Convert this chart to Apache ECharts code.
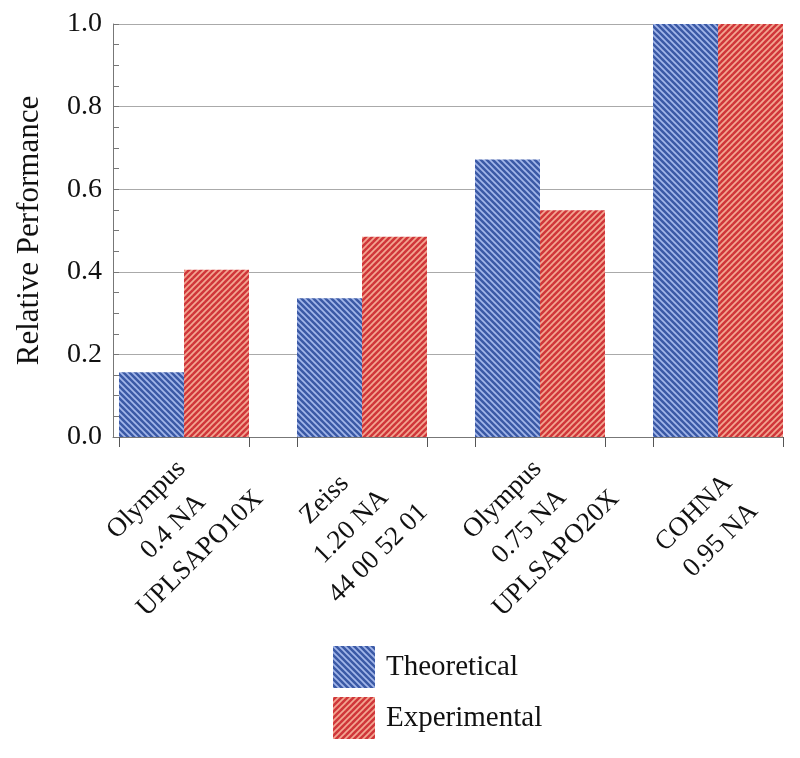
<!DOCTYPE html>
<html>
<head>
<meta charset="utf-8">
<script src="https://cdn.jsdelivr.net/npm/echarts@6/dist/echarts.min.js"></script>
<style>
html,body{margin:0;padding:0;background:#fff;}
#chart{width:800px;height:758px;}
</style>
</head>
<body>
<div id="chart"></div>
<script>
// ---- data ----
var categories = [
  'Olympus\n0.4 NA\nUPLSAPO10X',
  'Zeiss\n1.20 NA\n44 00 52 01',
  'Olympus\n0.75 NA\nUPLSAPO20X',
  'COHNA\n0.95 NA'
];
var theoretical = [0.157, 0.336, 0.672, 1.0];
var experimental = [0.405, 0.485, 0.549, 1.0];
var yTicks = [0, 0.2, 0.4, 0.6, 0.8, 1.0];
var seriesNames = ['Theoretical', 'Experimental'];

// ---- hatch patterns ----
function hatch(bg, fg, dir) {
  var s = 6;
  var c = document.createElement('canvas');
  c.width = s; c.height = s;
  var g = c.getContext('2d');
  g.fillStyle = bg; g.fillRect(0, 0, s, s);
  g.strokeStyle = fg; g.lineWidth = 1.7;
  for (var k = -1; k <= 2; k++) {
    g.beginPath();
    if (dir === 'back') { // "\" direction
      g.moveTo(-s, k * s - s); g.lineTo(2 * s, k * s + 2 * s);
    } else { // "/" direction
      g.moveTo(-s, k * s + s); g.lineTo(2 * s, k * s - 2 * s);
    }
    g.stroke();
  }
  return { image: c, repeat: 'repeat' };
}
var bluePat = hatch('#3b5aa6', '#a3b7ea', 'back');
var redPat = hatch('#d0363a', '#f3a792', 'fwd');

var FONT = 'Liberation Serif';
var barW = 65;
var spacing = 178; // px between group centres
var halfGroup = barW / spacing;
var tickVals = [];
categories.forEach(function (c, i) { tickVals.push(i - halfGroup, i + halfGroup); });

var chart = echarts.init(document.getElementById('chart'), null, { renderer: 'canvas' });
chart.setOption({
  backgroundColor: '#fff',
  animation: false,
  grid: { left: 113, right: 17, top: 24, bottom: 321 },
  legend: {
    orient: 'vertical', left: 328, top: 641,
    itemWidth: 42, itemHeight: 42, itemGap: 9,
    icon: 'rect',
    textStyle: { fontFamily: FONT, fontSize: 29, color: '#111', padding: [0, 0, 0, 6] },
    data: seriesNames
  },
  xAxis: {
    type: 'value',
    min: -71 / spacing,
    max: 599 / spacing,
    splitLine: { show: false },
    axisLine: { show: true, onZero: false, lineStyle: { color: '#777', width: 1 } },
    axisTick: { show: true, inside: false, length: 10, customValues: tickVals, lineStyle: { color: '#555' } },
    axisLabel: {
      customValues: categories.map(function (c, i) { return i; }),
      formatter: function (v) { return categories[Math.round(v)]; },
      rotate: 45, align: 'center', verticalAlign: 'middle',
      margin: 79, padding: [0, 30, 0, 0],
      lineHeight: 38, fontSize: 27, fontFamily: FONT, color: '#111',
      hideOverlap: false
    }
  },
  yAxis: {
    type: 'value', min: yTicks[0], max: yTicks[yTicks.length - 1], interval: 0.2,
    name: 'Relative Performance', nameLocation: 'middle', nameRotate: 90, nameGap: 68,
    nameTextStyle: { fontFamily: FONT, fontSize: 31, color: '#111' },
    axisLine: { show: true, onZero: false, lineStyle: { color: '#777', width: 1 } },
    axisTick: { show: true, inside: true, length: 6, lineStyle: { color: '#777' } },
    minorTick: { show: true, splitNumber: 4, length: 6, lineStyle: { color: '#777' } },
    splitLine: { show: true, lineStyle: { color: '#aaa', width: 1 } },
    axisLabel: {
      fontFamily: FONT, fontSize: 28, color: '#111', margin: 11,
      formatter: function (v) { return v.toFixed(1); }
    }
  },
  series: [
    {
      name: seriesNames[0], type: 'bar', barWidth: barW, barGap: '0%',
      itemStyle: { color: bluePat },
      data: categories.map(function (c, i) { return [i, theoretical[i]]; })
    },
    {
      name: seriesNames[1], type: 'bar', barWidth: barW, barGap: '0%',
      itemStyle: { color: redPat },
      data: categories.map(function (c, i) { return [i, experimental[i]]; })
    }
  ]
});
</script>
</body>
</html>
